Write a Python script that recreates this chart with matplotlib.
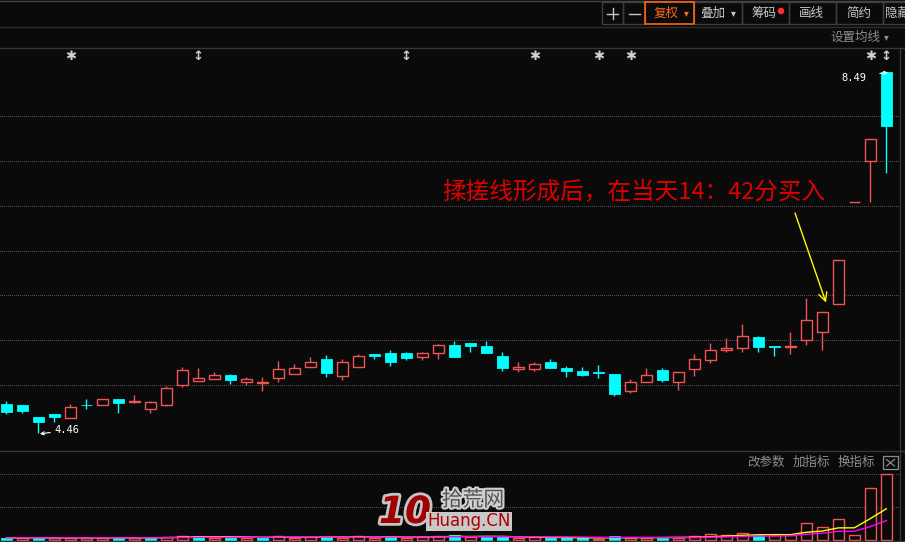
import matplotlib
matplotlib.use('Agg')
import matplotlib.pyplot as plt
from matplotlib.patches import Rectangle, Circle
import matplotlib.patheffects as pe
import numpy as np
import pandas as pd

plt.rcParams['font.family'] = ['Noto Sans CJK SC', 'DejaVu Sans']

# ---------------- data ----------------
opens = [4.786, 4.775, 4.641, 4.674, 4.633, 4.782, 4.778, 4.841, 4.815, 4.733,
         4.778, 5.000, 5.044, 5.067, 5.108, 5.033, 5.019, 5.078, 5.122, 5.200,
         5.286, 5.100, 5.200, 5.341, 5.363, 5.352, 5.308, 5.352, 5.452, 5.474,
         5.430, 5.319, 5.178, 5.178, 5.252, 5.186, 5.152, 5.141, 5.119, 4.933,
         5.033, 5.163, 5.037, 5.182, 5.282, 5.389, 5.415, 5.541, 5.435, 5.424,
         5.504, 5.593, 5.904, 7.038, 7.500, 8.490]
highs = [4.819, 4.775, 4.641, 4.674, 4.786, 4.841, 4.841, 4.841, 4.886, 4.819,
         4.986, 5.197, 5.186, 5.141, 5.119, 5.086, 5.086, 5.263, 5.230, 5.308,
         5.330, 5.286, 5.341, 5.341, 5.386, 5.374, 5.374, 5.463, 5.486, 5.474,
         5.486, 5.374, 5.252, 5.252, 5.286, 5.208, 5.197, 5.219, 5.119, 5.071,
         5.186, 5.186, 5.148, 5.341, 5.474, 5.530, 5.685, 5.550, 5.441, 5.597,
         5.974, 5.815, 6.393, 7.038, 7.740, 8.490]
lows = [4.674, 4.686, 4.460, 4.585, 4.633, 4.730, 4.778, 4.686, 4.797, 4.686,
        4.764, 4.975, 5.044, 5.067, 5.011, 5.000, 4.934, 5.033, 5.122, 5.200,
        5.086, 5.052, 5.200, 5.286, 5.208, 5.274, 5.274, 5.286, 5.308, 5.374,
        5.352, 5.152, 5.141, 5.152, 5.186, 5.086, 5.097, 5.074, 4.878, 4.911,
        5.033, 5.033, 4.944, 5.100, 5.245, 5.374, 5.367, 5.367, 5.322, 5.344,
        5.444, 5.389, 5.904, 7.038, 7.038, 7.371]
closes = [4.697, 4.708, 4.589, 4.645, 4.760, 4.780, 4.841, 4.800, 4.820, 4.808,
          4.963, 5.163, 5.074, 5.108, 5.056, 5.063, 5.030, 5.174, 5.186, 5.252,
          5.130, 5.252, 5.319, 5.319, 5.252, 5.297, 5.352, 5.452, 5.308, 5.441,
          5.363, 5.186, 5.196, 5.230, 5.186, 5.152, 5.108, 5.130, 4.897, 5.037,
          5.115, 5.052, 5.148, 5.293, 5.393, 5.408, 5.548, 5.422, 5.428, 5.430,
          5.726, 5.815, 6.393, 7.038, 7.740, 7.889]
volumes = [2.0, 2.5, 2.0, 2.0, 2.5, 2.0, 2.5, 2.0, 2.0, 2.5,
           3.0, 4.0, 4.0, 2.5, 2.5, 2.0, 2.5, 4.0, 2.5, 3.0,
           3.0, 2.5, 4.0, 2.0, 4.0, 2.0, 3.3, 4.0, 5.0, 3.0,
           3.0, 3.0, 2.0, 3.3, 2.0, 2.0, 2.0, 1.5, 4.0, 2.3,
           2.3, 2.3, 2.3, 4.0, 5.7, 4.7, 6.7, 5.0, 4.7, 5.5,
           16.7, 13.0, 20.7, 5.0, 51.7, 65.7]
price_grid = [5.0, 5.5, 6.0, 6.5, 7.0, 7.5, 8.0]
vol_grid = [33, 66]
marker_days = [4, 12, 25, 33, 37, 39, 54, 55]
marker_glyphs = ['✱', '↕', '↕', '✱', '✱', '✱', '✱', '↕']
low_label = '4.46'
high_label = '8.49'
note_text = '揉搓线形成后，在当天14：42分买入'
toolbar_labels = ['复权', '叠加', '筹码', '画线', '简约', '隐藏']
vol_toolbar = ['改参数', '加指标', '换指标']

# ---------------- style ----------------
W, H = 905, 542
BG = '#0a0a0a'
UP = '#f25454'
DOWN = '#00ffff'
GRID = '#505050'
LINE = '#363636'
UI = '#c8c8c8'
UI2 = '#8c8c8c'

fig = plt.figure(figsize=(W / 100, H / 100), dpi=100, facecolor=BG)


def fy(y):
    return 1 - y / H


ax = fig.add_axes([0, fy(450), 899 / W, (450 - 48) / H])
vax = fig.add_axes([0, fy(541), 899 / W, (541 - 450) / H])
for a in (ax, vax):
    a.set_facecolor(BG)
    for s in a.spines.values():
        s.set_visible(False)
    a.set_xticks([])
    a.set_yticks([])
    a.set_xlim(-0.394, 55.79)
ax.set_ylim(4.275, 8.761)
vax.set_ylim(-1, 90)

dot = (0, (1, 2))
for g in price_grid:
    ax.axhline(g, color=GRID, lw=0.72, ls=dot, zorder=0, antialiased=False)
for g in vol_grid:
    vax.axhline(g, color=GRID, lw=0.72, ls=dot, zorder=0, antialiased=False)

n = len(opens)
bw = 0.68
for i in range(n):
    o, h, l, c = opens[i], highs[i], lows[i], closes[i]
    if c >= o:
        ax.vlines(i, c, h, color=UP, lw=1.0, zorder=2)
        ax.vlines(i, l, o, color=UP, lw=1.0, zorder=2)
        ax.add_patch(Rectangle((i - bw / 2, o), bw, max(c - o, 0.001),
                               facecolor=BG, edgecolor=UP, lw=1.0, zorder=3))
    else:
        ax.vlines(i, l, h, color=DOWN, lw=1.0, zorder=2)
        ax.add_patch(Rectangle((i - bw / 2, c), bw, o - c,
                               facecolor=DOWN, edgecolor=DOWN, lw=0.6, zorder=3))

# volume bars
for i in range(n):
    prev = closes[i - 1] if i > 0 else opens[i]
    v = volumes[i]
    if closes[i] >= prev:
        vax.add_patch(Rectangle((i - bw / 2, 0), bw, v, facecolor=BG,
                                edgecolor=UP, lw=1.0, zorder=2))
    else:
        vax.add_patch(Rectangle((i - bw / 2, 0), bw, v, facecolor=DOWN,
                                edgecolor=DOWN, lw=0.6, zorder=2))
vs = pd.Series(volumes)
xs = np.arange(n)
vax.plot(xs, vs.rolling(5, min_periods=1).mean(), color='#ffff00', lw=1.0, zorder=4)
vax.plot(xs, vs.rolling(10, min_periods=1).mean(), color='#ff00ff', lw=1.0, zorder=4)

# info markers on top row
for d, gl in zip(marker_days, marker_glyphs):
    ax.text(d, 8.661, gl, color='#d0d0d0', fontsize=9.5, ha='center', va='center',
            family=['DejaVu Sans'], fontweight='bold')

# low / high labels
ax.annotate(low_label, xy=(2.1, 4.455), xytext=(3.0, 4.495), color='white',
            fontsize=7.5, family=['DejaVu Sans Mono'], ha='left', va='center',
            arrowprops=dict(arrowstyle='->,head_length=0.3,head_width=0.15',
                            color='white', lw=0.8, shrinkA=1, shrinkB=0))
ax.annotate(high_label, xy=(55.1, 8.49), xytext=(53.73, 8.43), color='white',
            fontsize=7.5, family=['DejaVu Sans Mono'], ha='right', va='center',
            arrowprops=dict(arrowstyle='->,head_length=0.3,head_width=0.15',
                            color='white', lw=0.8, shrinkA=8, shrinkB=0))

# yellow pointer arrow
ax.annotate('', xy=(51.23, 5.92), xytext=(49.29, 6.92),
            arrowprops=dict(arrowstyle='->,head_length=0.6,head_width=0.3',
                            color='#ffff00', lw=1.0, shrinkA=0, shrinkB=0))

# ---------------- overlay (UI chrome, texts) ----------------
ov = fig.add_axes([0, 0, 1, 1])
ov.set_xlim(0, W)
ov.set_ylim(H, 0)
ov.axis('off')
ov.patch.set_alpha(0)

for yy, col in [(0.5, '#444444'), (26.5, '#2e2e2e'), (48, LINE), (450.5, LINE), (541, LINE)]:
    ov.plot([0, W], [yy, yy], color=col, lw=1.0)
ov.plot([899.5, 899.5], [48, 541], color=LINE, lw=1.0)

# toolbar buttons
edges = [601.7, 623.3, 645, 693.7, 741.7, 788.7, 835.7, 882.7, 930]
for k in range(len(edges) - 1):
    if k == 2:
        continue
    ov.add_patch(Rectangle((edges[k], 2.3), edges[k + 1] - edges[k], 22,
                           facecolor='none', edgecolor='#3c3c3c', lw=1.0))
ov.add_patch(Rectangle((645, 2.3), 48.7, 22, facecolor='none',
                       edgecolor='#ff6410', lw=1.2, zorder=5))
ov.plot([607, 618], [13.5, 13.5], color=UI, lw=1.0)
ov.plot([612.5, 612.5], [8, 19], color=UI, lw=1.0)
ov.plot([629, 640], [13.5, 13.5], color=UI, lw=1.0)
ov.text(666, 13.5, toolbar_labels[0], color='#ff6a1a', fontsize=9, ha='center', va='center')
ov.text(686, 13.5, '▾', color='#ff6a1a', fontsize=7, ha='center', va='center')
ov.text(713, 13.5, toolbar_labels[1], color=UI, fontsize=9, ha='center', va='center')
ov.text(733.5, 13.5, '▾', color=UI, fontsize=7, ha='center', va='center')
ov.text(764, 13.5, toolbar_labels[2], color=UI, fontsize=9, ha='center', va='center')
ov.add_patch(Circle((781, 11), 2.6, color='#ff2a2a'))
ov.text(811, 13.5, toolbar_labels[3], color=UI, fontsize=9, ha='center', va='center')
ov.text(858.5, 13.5, toolbar_labels[4], color=UI, fontsize=9, ha='center', va='center')
ov.text(885, 13.5, toolbar_labels[5], color=UI, fontsize=9, ha='left', va='center')

ov.text(880, 37.5, '设置均线', color=UI2, fontsize=9, ha='right', va='center')
ov.text(886, 37.5, '▾', color=UI2, fontsize=7, ha='center', va='center')

# volume panel toolbar
for lab, cx in zip(vol_toolbar, [766, 811.5, 856.5]):
    ov.text(cx, 462.7, lab, color=UI2, fontsize=9, ha='center', va='center')
ov.add_patch(Rectangle((883, 456), 15, 13.3, facecolor='none', edgecolor=UI2, lw=0.9))
ov.plot([886.5, 894.5], [459.5, 466], color=UI2, lw=0.9)
ov.plot([886.5, 894.5], [466, 459.5], color=UI2, lw=0.9)

# annotation text
ov.text(442, 192, note_text, color='#e00000', fontsize=17, ha='left', va='center')

# watermark logo
ov.text(405, 513, '10', fontsize=27, fontweight='bold', style='italic', color='#a00000',
        family=['DejaVu Sans'], ha='center', va='center',
        path_effects=[pe.withStroke(linewidth=4, foreground='#c4c4c4')])
ov.text(473, 500, '拾荒网', fontsize=15, color='#555555', ha='center', va='center',
        path_effects=[pe.withStroke(linewidth=3, foreground='#d0d0d0')])
ov.text(469, 521.5, 'Huang.CN', fontsize=12, color='#b00000', ha='center', va='center',
        family=['DejaVu Sans'],
        bbox=dict(facecolor='#c8c8c8', edgecolor='none', pad=0.6))

fig.savefig('out.png', dpi=100, facecolor=BG)
